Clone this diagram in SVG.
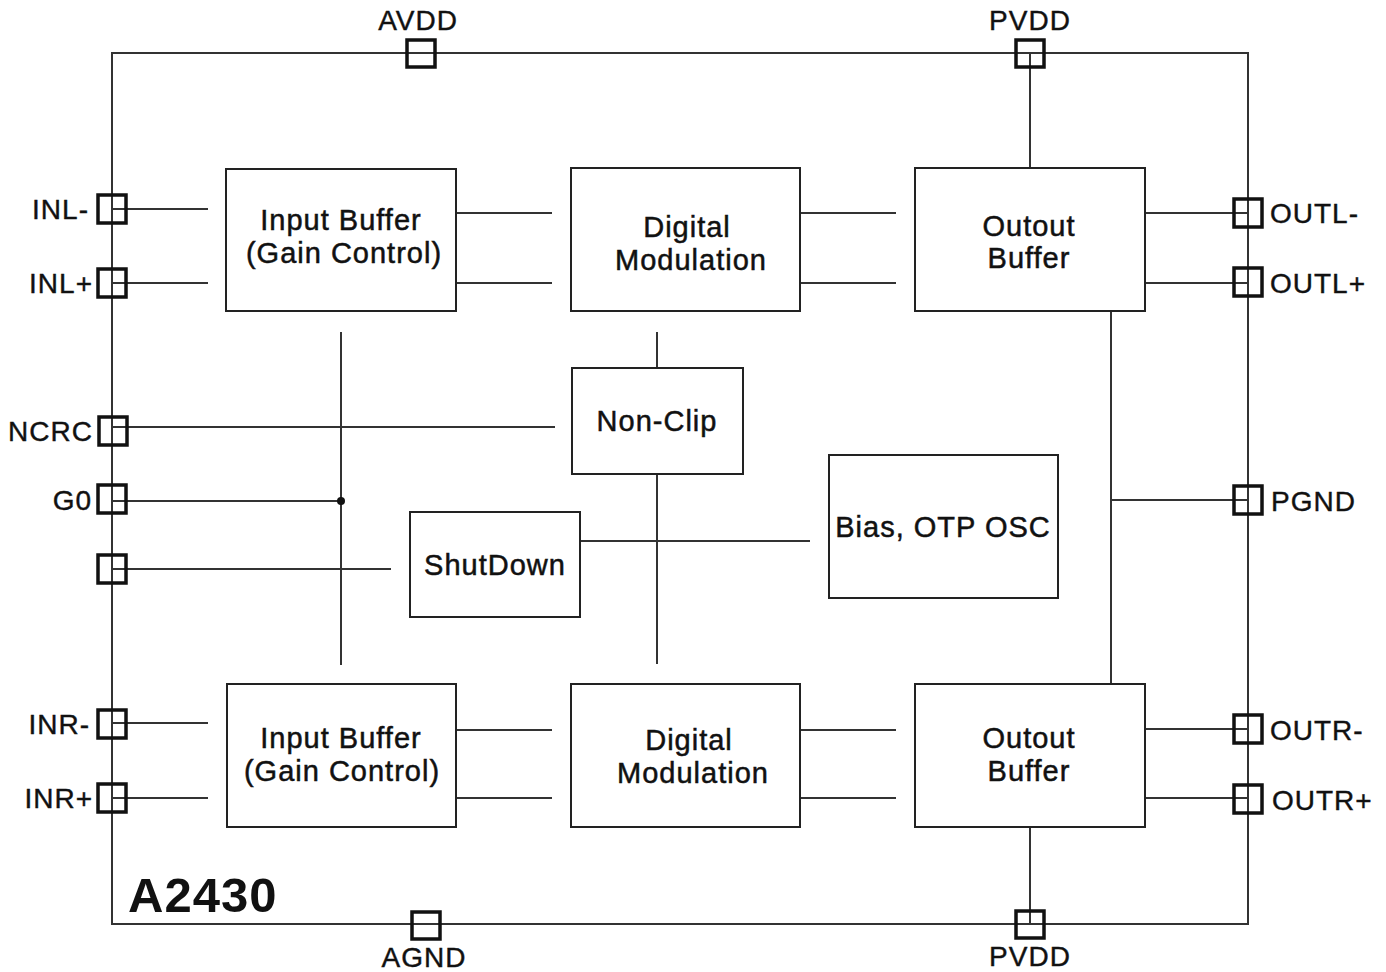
<svg xmlns="http://www.w3.org/2000/svg" width="1386" height="972" viewBox="0 0 1386 972">
<style>
.w{stroke:#333;stroke-width:2;fill:none}
.b{stroke:#222;stroke-width:2;fill:#fff}
.pin{stroke:#111;stroke-width:3.5;fill:none}
.t{font-family:"Liberation Sans",Arial,sans-serif;font-size:29px;fill:#111;text-anchor:middle;letter-spacing:1px;stroke:#111;stroke-width:0.5}
.l{font-family:"Liberation Sans",Arial,sans-serif;font-size:28px;fill:#111;letter-spacing:1px;stroke:#111;stroke-width:0.4}
.e{text-anchor:end}
.m{text-anchor:middle}
</style>
<rect width="1386" height="972" fill="#fff"/>
<g id="chip">
<rect x="112" y="53" width="1136" height="871" class="w"/>
<text x="128" y="912" font-family="Liberation Sans,Arial,sans-serif" font-size="49" font-weight="bold" letter-spacing="1" fill="#111">A2430</text>
</g>
<g id="connectors">
<line x1="112" y1="209" x2="208" y2="209" class="w"/>
<line x1="112" y1="283" x2="208" y2="283" class="w"/>
<line x1="112" y1="427" x2="555" y2="427" class="w"/>
<line x1="112" y1="501" x2="341" y2="501" class="w"/>
<line x1="112" y1="569" x2="391" y2="569" class="w"/>
<line x1="112" y1="723" x2="208" y2="723" class="w"/>
<line x1="112" y1="798" x2="208" y2="798" class="w"/>
<line x1="341" y1="332" x2="341" y2="665" class="w"/>
<circle cx="341" cy="501" r="4" fill="#111"/>
<line x1="456" y1="213" x2="552" y2="213" class="w"/>
<line x1="456" y1="283" x2="552" y2="283" class="w"/>
<line x1="800" y1="213" x2="896" y2="213" class="w"/>
<line x1="800" y1="283" x2="896" y2="283" class="w"/>
<line x1="1145" y1="213" x2="1248" y2="213" class="w"/>
<line x1="1145" y1="283" x2="1248" y2="283" class="w"/>
<line x1="456" y1="730" x2="552" y2="730" class="w"/>
<line x1="456" y1="798" x2="552" y2="798" class="w"/>
<line x1="800" y1="730" x2="896" y2="730" class="w"/>
<line x1="800" y1="798" x2="896" y2="798" class="w"/>
<line x1="1145" y1="729" x2="1248" y2="729" class="w"/>
<line x1="1145" y1="798" x2="1248" y2="798" class="w"/>
<line x1="1030" y1="53" x2="1030" y2="168" class="w"/>
<line x1="1030" y1="827" x2="1030" y2="925" class="w"/>
<line x1="1111" y1="311" x2="1111" y2="684" class="w"/>
<line x1="1111" y1="500" x2="1248" y2="500" class="w"/>
<line x1="657" y1="332" x2="657" y2="368" class="w"/>
<line x1="657" y1="474" x2="657" y2="664" class="w"/>
<line x1="580" y1="541" x2="810" y2="541" class="w"/>
</g>
<g id="pins">
<rect x="407" y="40" width="28" height="27" class="pin"/>
<rect x="1016" y="40" width="28" height="27" class="pin"/>
<rect x="98" y="195" width="28" height="28" class="pin"/>
<rect x="98" y="269" width="28" height="28" class="pin"/>
<rect x="99" y="417" width="28" height="28" class="pin"/>
<rect x="98" y="485" width="28" height="28" class="pin"/>
<rect x="98" y="555" width="28" height="28" class="pin"/>
<rect x="98" y="710" width="28" height="28" class="pin"/>
<rect x="98" y="784" width="28" height="28" class="pin"/>
<rect x="1234" y="199" width="28" height="28" class="pin"/>
<rect x="1234" y="268" width="28" height="28" class="pin"/>
<rect x="1234" y="486" width="28" height="28" class="pin"/>
<rect x="1234" y="715" width="28" height="28" class="pin"/>
<rect x="1234" y="785" width="28" height="28" class="pin"/>
<rect x="412" y="912" width="28" height="27" class="pin"/>
<rect x="1016" y="911" width="28" height="27" class="pin"/>
<text class="l m" x="418" y="30">AVDD</text>
<text class="l m" x="1030" y="30">PVDD</text>
<text class="l e" x="89" y="219">INL-</text>
<text class="l e" x="93" y="293">INL+</text>
<text class="l e" x="93" y="441">NCRC</text>
<text class="l e" x="92" y="510">G0</text>
<text class="l e" x="90" y="734">INR-</text>
<text class="l e" x="93" y="808">INR+</text>
<text class="l" x="1270" y="223">OUTL-</text>
<text class="l" x="1270" y="293">OUTL+</text>
<text class="l" x="1271" y="511">PGND</text>
<text class="l" x="1270" y="740">OUTR-</text>
<text class="l" x="1272" y="810">OUTR+</text>
<text class="l m" x="424" y="967">AGND</text>
<text class="l m" x="1030" y="966">PVDD</text>
</g>
<g id="inbuf-l">
<rect x="226" y="169" width="230" height="142" class="b" stroke-width="3.5"/>
<text class="t" x="341" y="230">Input Buffer</text>
<text class="t" x="344" y="263">(Gain Control)</text>
</g>
<g id="dmod-l">
<rect x="571" y="168" width="229" height="143" class="b"/>
<text class="t" x="687" y="237">Digital</text>
<text class="t" x="691" y="270">Modulation</text>
</g>
<g id="outbuf-l">
<rect x="915" y="168" width="230" height="143" class="b"/>
<text class="t" x="1029" y="236">Outout</text>
<text class="t" x="1029" y="268">Buffer</text>
</g>
<g id="nonclip">
<rect x="572" y="368" width="171" height="106" class="b"/>
<text class="t" x="657" y="431">Non-Clip</text>
</g>
<g id="shutdown">
<rect x="410" y="512" width="170" height="105" class="b"/>
<text class="t" x="495" y="575">ShutDown</text>
</g>
<g id="bias">
<rect x="829" y="455" width="229" height="143" class="b"/>
<text class="t" x="943" y="537">Bias, OTP OSC</text>
</g>
<g id="inbuf-r">
<rect x="227" y="684" width="229" height="143" class="b"/>
<text class="t" x="341" y="748">Input Buffer</text>
<text class="t" x="342" y="781">(Gain Control)</text>
</g>
<g id="dmod-r">
<rect x="571" y="684" width="229" height="143" class="b"/>
<text class="t" x="689" y="750">Digital</text>
<text class="t" x="693" y="783">Modulation</text>
</g>
<g id="outbuf-r">
<rect x="915" y="684" width="230" height="143" class="b"/>
<text class="t" x="1029" y="748">Outout</text>
<text class="t" x="1029" y="781">Buffer</text>
</g>
</svg>
